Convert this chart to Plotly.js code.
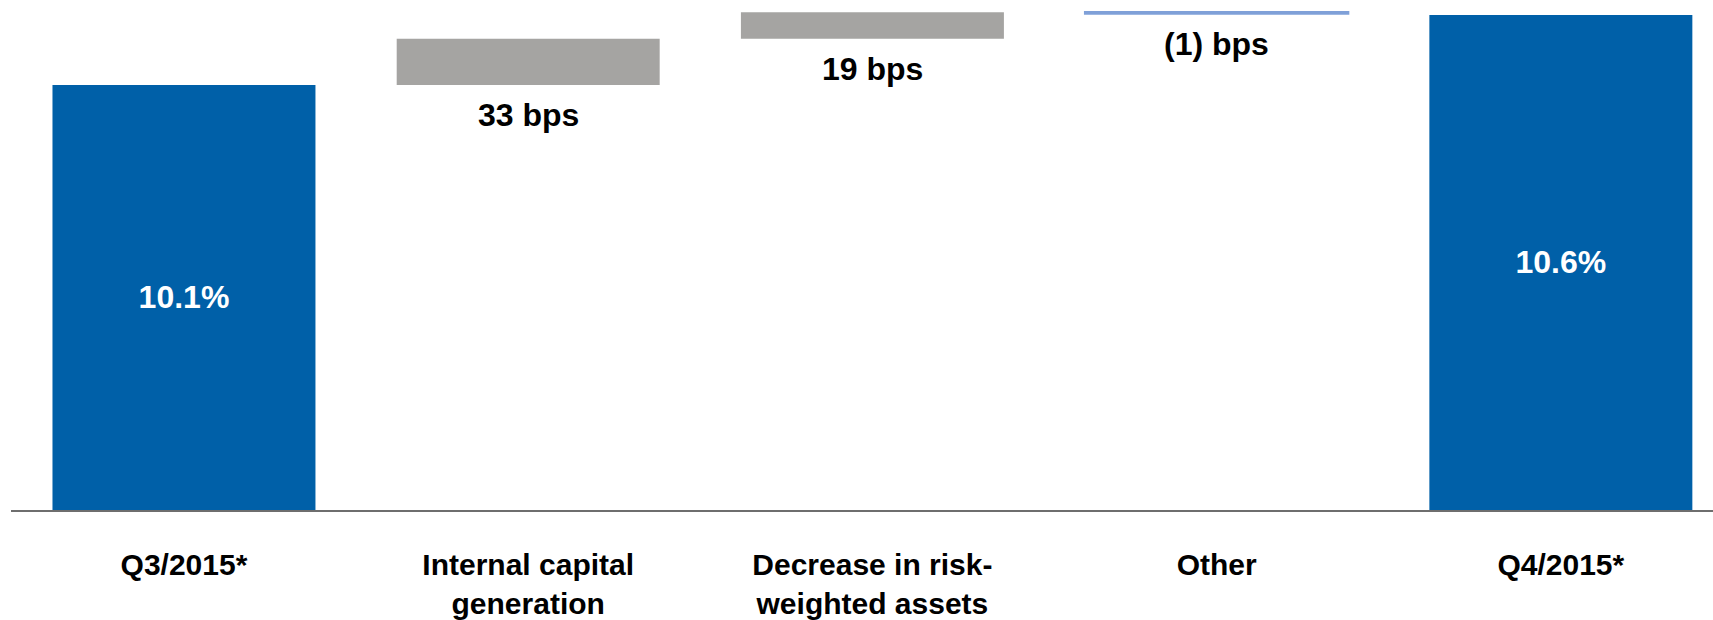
<!DOCTYPE html>
<html>
<head>
<meta charset="utf-8">
<script src="https://cdn.plot.ly/plotly-3.0.1.min.js"></script>
<style>
  html, body { margin: 0; padding: 0; background: #ffffff; }
  #chart { width: 1713px; height: 620px; }
</style>
</head>
<body>
<div id="chart"></div>
<script>
// ---- data ----
const categories = ["Q3/2015*", "Internal capital<br>generation", "Decrease in risk-<br>weighted assets", "Other", "Q4/2015*"];
const measures   = ["total", "delta", "delta", "delta", "total"];
const values     = [10.1, 0.33, 0.19, -0.01, 10.6];   // % for totals, percentage points for deltas
const barColors  = ["#0060A8", "#A5A4A2", "#A5A4A2", "#7FA0D8", "#0060A8"];

// visible axis floor (the reference is drawn on a truncated scale)
const axisFloor = 7.064;

// ---- build bars (base + height) from the data ----
let running = 0;
const bases = [], heights = [], insideText = [], bpsText = [], bpsY = [];
values.forEach((v, i) => {
  if (measures[i] === "total") {
    bases.push(axisFloor);
    heights.push(v - axisFloor);
    insideText.push(v.toFixed(1) + "%");
    bpsText.push("");
    bpsY.push(null);
    running = v;
  } else {
    bases.push(running);
    heights.push(v);
    insideText.push("");
    const bps = Math.round(v * 100);
    bpsText.push((bps < 0 ? "(" + Math.abs(bps) + ")" : String(bps)) + " bps");
    bpsY.push(Math.min(running, running + v));
    running += v;
  }
});

const trace = {
  type: "bar",
  x: categories,
  y: heights,
  base: bases,
  width: 0.764,
  marker: {
    color: barColors,
    line: { color: barColors, width: measures.map((m, i) => (values[i] < 0 ? 2.4 : 0)) }
  },
  text: insideText,
  textposition: "inside",
  insidetextanchor: "middle",
  textangle: 0,
  textfont: { family: "Liberation Sans, Arial, sans-serif", size: 32, color: "#ffffff", weight: 700 },
  hoverinfo: "skip",
  cliponaxis: false
};

const annotations = [];
categories.forEach((c, i) => {
  if (!bpsText[i]) return;
  annotations.push({
    x: c, y: bpsY[i], xref: "x", yref: "y",
    text: bpsText[i], showarrow: false,
    yanchor: "top", xanchor: "center", yshift: -10,
    font: { family: "Liberation Sans, Arial, sans-serif", size: 32, color: "#000000", weight: 700 }
  });
});

const layout = {
  width: 1713, height: 620,
  margin: { l: 11, r: 0, t: 0, b: 110 },
  paper_bgcolor: "#ffffff", plot_bgcolor: "#ffffff",
  showlegend: false,
  xaxis: {
    type: "category",
    range: [-0.5025, 4.442],
    showline: true, linecolor: "#6E6E6E", linewidth: 2,
    showgrid: false, zeroline: false, ticks: "",
    ticklabelstandoff: 27,
    tickfont: { family: "Liberation Sans, Arial, sans-serif", size: 30, color: "#000000", weight: 700 }
  },
  yaxis: {
    range: [axisFloor, axisFloor + 510 / 140],
    visible: false, showgrid: false, zeroline: false, fixedrange: true
  },
  annotations: annotations
};

Plotly.newPlot("chart", [trace], layout, { displayModeBar: false, staticPlot: true });
</script>
</body>
</html>
